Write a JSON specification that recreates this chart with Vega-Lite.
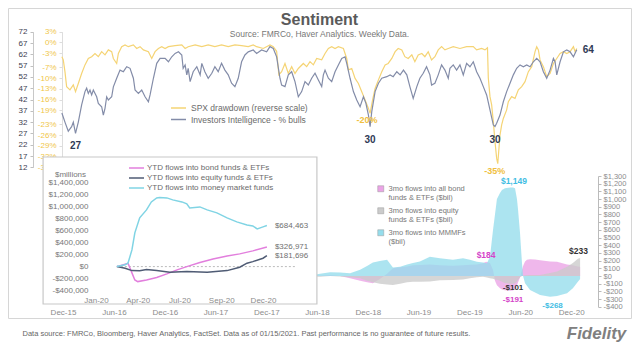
{
"$schema": "https://vega.github.io/schema/vega-lite/v6.json",
"width": 623, "height": 310, "autosize": "none",
"padding": {"left": 8, "top": 8, "right": 9, "bottom": 34},
"background": "white",
"config": {
  "font": "Liberation Sans",
  "view": {"stroke": "#d6d6d6"},
  "axis": {"grid": false, "labelFlush": false, "labelOverlap": false, "labelBound": false},
  "legend": {"padding": 0, "titlePadding": 0}
},
"title": {"text": "Sentiment", "subtitle": "Source: FMRCo, Haver Analytics. Weekly Data.", "anchor": "middle", "frame": "group", "offset": -30, "fontSize": 16, "fontWeight": "bold", "color": "#5a5a5a", "subtitleFontSize": 8.5, "subtitleColor": "#777777", "subtitlePadding": 2},
"datasets": {
"ii": [
{"d":"2015-11-27","v":36},{"d":"2015-12-08","v":32},{"d":"2015-12-20","v":28},{"d":"2016-01-01","v":30},{"d":"2016-01-07","v":32},{"d":"2016-01-15","v":27},{"d":"2016-01-25","v":32},{"d":"2016-02-06","v":39.6},{"d":"2016-02-18","v":45.5},{"d":"2016-02-24","v":47},{"d":"2016-03-01","v":44.7},{"d":"2016-03-07","v":46.2},{"d":"2016-03-13","v":44},{"d":"2016-03-19","v":46.2},{"d":"2016-03-31","v":43.2},{"d":"2016-04-06","v":40.3},{"d":"2016-04-18","v":38.8},{"d":"2016-04-24","v":35.1},{"d":"2016-04-30","v":38.1},{"d":"2016-05-06","v":43.2},{"d":"2016-05-12","v":41.8},{"d":"2016-05-24","v":43.2},{"d":"2016-05-30","v":47.6},{"d":"2016-06-11","v":51.4},{"d":"2016-06-23","v":55},{"d":"2016-07-05","v":54.3},{"d":"2016-07-17","v":56.5},{"d":"2016-07-29","v":55.8},{"d":"2016-08-10","v":51.4},{"d":"2016-08-16","v":46.2},{"d":"2016-08-28","v":44.7},{"d":"2016-09-09","v":46.2},{"d":"2016-09-21","v":43.2},{"d":"2016-10-03","v":41},{"d":"2016-10-09","v":44},{"d":"2016-10-21","v":51.4},{"d":"2016-11-02","v":58},{"d":"2016-11-14","v":60.2},{"d":"2016-12-02","v":60.2},{"d":"2016-12-14","v":58.7},{"d":"2016-12-26","v":60.9},{"d":"2017-01-07","v":62.4},{"d":"2017-01-19","v":63.1},{"d":"2017-01-31","v":61.7},{"d":"2017-02-05","v":55.8},{"d":"2017-02-12","v":57.3},{"d":"2017-02-18","v":52.9},{"d":"2017-02-23","v":55.8},{"d":"2017-03-02","v":49.9},{"d":"2017-03-13","v":54.3},{"d":"2017-03-26","v":56.5},{"d":"2017-04-07","v":52.9},{"d":"2017-04-13","v":58},{"d":"2017-04-24","v":54.3},{"d":"2017-05-06","v":51.4},{"d":"2017-05-19","v":53.6},{"d":"2017-05-30","v":56.5},{"d":"2017-06-11","v":54.3},{"d":"2017-06-23","v":58},{"d":"2017-07-05","v":55},{"d":"2017-07-17","v":52.9},{"d":"2017-07-29","v":49.2},{"d":"2017-08-10","v":47.7},{"d":"2017-08-22","v":51.4},{"d":"2017-09-03","v":58.7},{"d":"2017-09-15","v":61.7},{"d":"2017-09-27","v":63.1},{"d":"2017-10-15","v":63.9},{"d":"2017-10-27","v":62.4},{"d":"2017-11-14","v":63.9},{"d":"2017-12-02","v":63.1},{"d":"2017-12-14","v":65.4},{"d":"2017-12-26","v":64.6},{"d":"2018-01-07","v":60.9},{"d":"2018-01-19","v":51.4},{"d":"2018-01-25","v":48.4},{"d":"2018-02-06","v":47.7},{"d":"2018-02-18","v":52.9},{"d":"2018-03-02","v":54.3},{"d":"2018-03-14","v":49.9},{"d":"2018-03-26","v":43.2},{"d":"2018-04-07","v":45.5},{"d":"2018-04-19","v":49.9},{"d":"2018-05-01","v":48.4},{"d":"2018-05-13","v":51.4},{"d":"2018-05-25","v":53.6},{"d":"2018-06-06","v":50.6},{"d":"2018-06-18","v":47.7},{"d":"2018-06-24","v":52.9},{"d":"2018-06-30","v":55},{"d":"2018-07-12","v":51.4},{"d":"2018-07-24","v":49.9},{"d":"2018-08-05","v":54.3},{"d":"2018-08-17","v":57.3},{"d":"2018-08-29","v":60.2},{"d":"2018-09-10","v":60.9},{"d":"2018-09-16","v":58},{"d":"2018-09-28","v":51.4},{"d":"2018-10-10","v":45.5},{"d":"2018-10-22","v":41.8},{"d":"2018-11-03","v":38.8},{"d":"2018-11-15","v":43.2},{"d":"2018-11-24","v":40.3},{"d":"2018-12-03","v":35.1},{"d":"2018-12-09","v":30},{"d":"2018-12-15","v":36.6},{"d":"2018-12-27","v":45.5},{"d":"2019-01-08","v":49.2},{"d":"2019-01-20","v":51.4},{"d":"2019-02-07","v":52.1},{"d":"2019-02-19","v":52.9},{"d":"2019-03-02","v":52.1},{"d":"2019-03-15","v":54.3},{"d":"2019-03-27","v":52.9},{"d":"2019-04-08","v":55},{"d":"2019-04-20","v":52.9},{"d":"2019-05-01","v":47.7},{"d":"2019-05-13","v":42.5},{"d":"2019-05-26","v":47.7},{"d":"2019-06-06","v":51.4},{"d":"2019-06-18","v":53.6},{"d":"2019-06-30","v":56.5},{"d":"2019-07-12","v":52.9},{"d":"2019-07-18","v":48.4},{"d":"2019-07-30","v":49.2},{"d":"2019-08-11","v":52.9},{"d":"2019-08-23","v":57.3},{"d":"2019-09-04","v":55},{"d":"2019-09-16","v":51.4},{"d":"2019-09-22","v":55.8},{"d":"2019-10-04","v":57.3},{"d":"2019-10-16","v":55},{"d":"2019-10-28","v":57.3},{"d":"2019-11-09","v":52.9},{"d":"2019-11-21","v":58},{"d":"2019-12-03","v":56.5},{"d":"2019-12-15","v":58.7},{"d":"2019-12-27","v":54.3},{"d":"2020-01-08","v":51.4},{"d":"2020-01-20","v":47.7},{"d":"2020-02-01","v":44},{"d":"2020-02-13","v":37.4},{"d":"2020-02-25","v":30.7},{"d":"2020-03-02","v":30},{"d":"2020-03-08","v":31.5},{"d":"2020-03-20","v":35.1},{"d":"2020-04-01","v":41},{"d":"2020-04-13","v":45.5},{"d":"2020-04-25","v":49.2},{"d":"2020-05-07","v":52.9},{"d":"2020-05-19","v":55.8},{"d":"2020-05-31","v":57.3},{"d":"2020-06-12","v":56.5},{"d":"2020-06-24","v":57.3},{"d":"2020-07-06","v":56.5},{"d":"2020-07-18","v":58.7},{"d":"2020-07-30","v":60.2},{"d":"2020-08-11","v":58.7},{"d":"2020-08-23","v":54.3},{"d":"2020-09-04","v":51.4},{"d":"2020-09-16","v":55},{"d":"2020-09-28","v":60.2},{"d":"2020-10-04","v":58.7},{"d":"2020-10-10","v":52.9},{"d":"2020-10-22","v":58.7},{"d":"2020-11-03","v":63.1},{"d":"2020-11-15","v":63.9},{"d":"2020-11-27","v":63.1},{"d":"2020-12-09","v":60.9},{"d":"2020-12-21","v":64}
],
"spx": [
{"d":"2015-11-27","v":-4.0},{"d":"2015-12-02","v":-4.9},{"d":"2015-12-08","v":-8.2},{"d":"2015-12-14","v":-12.4},{"d":"2015-12-26","v":-13.3},{"d":"2016-01-07","v":-11.9},{"d":"2016-01-15","v":-13.8},{"d":"2016-01-25","v":-11.5},{"d":"2016-02-06","v":-8.7},{"d":"2016-02-18","v":-6.3},{"d":"2016-03-01","v":-4.5},{"d":"2016-03-13","v":-4.0},{"d":"2016-03-25","v":-3.1},{"d":"2016-04-06","v":-4.0},{"d":"2016-04-18","v":-2.6},{"d":"2016-04-30","v":-3.5},{"d":"2016-05-12","v":-2.1},{"d":"2016-05-24","v":-2.6},{"d":"2016-05-30","v":-4.5},{"d":"2016-06-11","v":-5.9},{"d":"2016-06-17","v":-3.1},{"d":"2016-06-29","v":-1.2},{"d":"2016-07-11","v":-0.7},{"d":"2016-07-23","v":-1.2},{"d":"2016-08-10","v":-0.7},{"d":"2016-08-22","v":-1.7},{"d":"2016-09-03","v":-1.2},{"d":"2016-09-15","v":-2.1},{"d":"2016-10-03","v":-2.6},{"d":"2016-10-15","v":-4.5},{"d":"2016-10-27","v":-2.6},{"d":"2016-11-08","v":-1.7},{"d":"2016-11-20","v":-1.2},{"d":"2016-12-02","v":-1.7},{"d":"2016-12-14","v":-1.2},{"d":"2017-01-07","v":-0.9},{"d":"2017-01-31","v":-0.7},{"d":"2017-02-12","v":-1.7},{"d":"2017-02-23","v":-1.2},{"d":"2017-03-20","v":-0.7},{"d":"2017-04-13","v":-1.2},{"d":"2017-05-06","v":-0.7},{"d":"2017-05-30","v":-1.2},{"d":"2017-06-23","v":-0.7},{"d":"2017-07-17","v":-1.2},{"d":"2017-08-10","v":-0.7},{"d":"2017-09-03","v":-0.9},{"d":"2017-09-27","v":-1.2},{"d":"2017-10-15","v":-0.7},{"d":"2017-10-27","v":-1.2},{"d":"2017-11-20","v":-1.7},{"d":"2017-12-14","v":-0.7},{"d":"2017-12-26","v":-1.2},{"d":"2018-01-07","v":-2.5},{"d":"2018-01-15","v":-9.1},{"d":"2018-01-25","v":-8.2},{"d":"2018-02-06","v":-5.9},{"d":"2018-02-18","v":-8.7},{"d":"2018-03-02","v":-6.8},{"d":"2018-03-14","v":-8.7},{"d":"2018-03-26","v":-7.3},{"d":"2018-04-13","v":-5.9},{"d":"2018-04-25","v":-6.8},{"d":"2018-05-07","v":-5.4},{"d":"2018-05-19","v":-6.3},{"d":"2018-05-31","v":-4.5},{"d":"2018-06-18","v":-4.9},{"d":"2018-06-30","v":-3.1},{"d":"2018-07-12","v":-1.7},{"d":"2018-07-24","v":-1.2},{"d":"2018-08-05","v":-1.7},{"d":"2018-08-17","v":-1.2},{"d":"2018-09-04","v":-1.7},{"d":"2018-09-16","v":-4.5},{"d":"2018-09-22","v":-7.7},{"d":"2018-10-04","v":-7.3},{"d":"2018-10-16","v":-10.1},{"d":"2018-10-28","v":-11.5},{"d":"2018-11-09","v":-13.8},{"d":"2018-11-21","v":-16.1},{"d":"2018-12-03","v":-18.5},{"d":"2018-12-09","v":-19.9},{"d":"2018-12-18","v":-16.1},{"d":"2018-12-27","v":-12.9},{"d":"2019-01-08","v":-10.5},{"d":"2019-01-20","v":-8.2},{"d":"2019-02-01","v":-6.3},{"d":"2019-02-12","v":-5.9},{"d":"2019-02-25","v":-4.5},{"d":"2019-03-09","v":-2.6},{"d":"2019-03-20","v":-1.7},{"d":"2019-04-02","v":-2.1},{"d":"2019-04-13","v":-4.0},{"d":"2019-04-25","v":-4.5},{"d":"2019-05-08","v":-3.5},{"d":"2019-05-19","v":-5.4},{"d":"2019-05-31","v":-3.5},{"d":"2019-06-13","v":-3.1},{"d":"2019-06-24","v":-4.0},{"d":"2019-07-06","v":-2.6},{"d":"2019-07-18","v":-4.9},{"d":"2019-07-30","v":-4.0},{"d":"2019-08-11","v":-2.1},{"d":"2019-08-23","v":-1.2},{"d":"2019-09-04","v":-2.1},{"d":"2019-09-16","v":-1.7},{"d":"2019-10-04","v":-1.2},{"d":"2019-10-28","v":-1.7},{"d":"2019-11-21","v":-1.2},{"d":"2019-12-15","v":-1.2},{"d":"2019-12-27","v":-2.1},{"d":"2020-01-14","v":-1.7},{"d":"2020-01-26","v":-2.1},{"d":"2020-02-04","v":-1.5},{"d":"2020-02-07","v":-10},{"d":"2020-02-13","v":-15.2},{"d":"2020-02-19","v":-17.5},{"d":"2020-02-25","v":-22.2},{"d":"2020-03-02","v":-27.8},{"d":"2020-03-08","v":-32.5},{"d":"2020-03-12","v":-34},{"d":"2020-03-20","v":-26},{"d":"2020-03-26","v":-23.1},{"d":"2020-04-01","v":-21.3},{"d":"2020-04-13","v":-18.9},{"d":"2020-04-19","v":-16.6},{"d":"2020-05-01","v":-15.2},{"d":"2020-05-13","v":-15.7},{"d":"2020-05-25","v":-13.3},{"d":"2020-06-06","v":-12.4},{"d":"2020-06-18","v":-11},{"d":"2020-06-30","v":-8.2},{"d":"2020-07-12","v":-6.8},{"d":"2020-07-24","v":-2.6},{"d":"2020-07-30","v":-1.2},{"d":"2020-08-05","v":-2.1},{"d":"2020-08-11","v":-4.9},{"d":"2020-08-23","v":-6.8},{"d":"2020-09-04","v":-9.6},{"d":"2020-09-16","v":-8.7},{"d":"2020-09-28","v":-5.9},{"d":"2020-10-10","v":-4.5},{"d":"2020-10-22","v":-3.1},{"d":"2020-11-03","v":-2.6},{"d":"2020-11-15","v":-3.1},{"d":"2020-11-27","v":-2.6},{"d":"2020-12-09","v":-1.2},{"d":"2020-12-15","v":-2.6},{"d":"2020-12-21","v":-1.7}
],
"iiLows": [{"d":"2016-01-15","v":27,"t":"27"},{"d":"2018-12-09","v":30,"t":"30"},{"d":"2020-03-02","v":30,"t":"30"}],
"iiLast": [{"d":"2020-12-21","v":64,"t":"64"}],
"spxLows": [{"d":"2018-12-09","v":-19.9,"t":"-20%"},{"d":"2020-03-12","v":-34,"t":"-35%"}],
"flows": [
{"d":"2018-04-01","s":"bond","v":10},{"d":"2018-05-07","s":"bond","v":15},{"d":"2018-06-12","s":"bond","v":5},{"d":"2018-07-18","s":"bond","v":10},{"d":"2018-08-23","s":"bond","v":0},{"d":"2018-09-28","s":"bond","v":-30},{"d":"2018-11-03","s":"bond","v":-60},{"d":"2018-11-28","s":"bond","v":-80},{"d":"2018-12-19","s":"bond","v":-95},{"d":"2019-01-13","s":"bond","v":-40},{"d":"2019-02-08","s":"bond","v":30},{"d":"2019-03-01","s":"bond","v":100},{"d":"2019-03-27","s":"bond","v":115},{"d":"2019-04-21","s":"bond","v":125},{"d":"2019-05-12","s":"bond","v":140},{"d":"2019-06-06","s":"bond","v":143},{"d":"2019-07-12","s":"bond","v":150},{"d":"2019-08-17","s":"bond","v":140},{"d":"2019-10-03","s":"bond","v":135},{"d":"2019-11-08","s":"bond","v":140},{"d":"2019-12-03","s":"bond","v":145},{"d":"2019-12-28","s":"bond","v":150},{"d":"2020-01-19","s":"bond","v":165},{"d":"2020-01-30","s":"bond","v":184},{"d":"2020-02-13","s":"bond","v":170},{"d":"2020-02-24","s":"bond","v":78},{"d":"2020-03-02","s":"bond","v":-60},{"d":"2020-03-09","s":"bond","v":-120},{"d":"2020-03-20","s":"bond","v":-160},{"d":"2020-03-27","s":"bond","v":-175},{"d":"2020-04-07","s":"bond","v":-185},{"d":"2020-04-25","s":"bond","v":-191},{"d":"2020-05-06","s":"bond","v":-188},{"d":"2020-05-13","s":"bond","v":-170},{"d":"2020-05-20","s":"bond","v":-120},{"d":"2020-05-24","s":"bond","v":-80},{"d":"2020-05-31","s":"bond","v":-20},{"d":"2020-06-07","s":"bond","v":78},{"d":"2020-06-11","s":"bond","v":130},{"d":"2020-06-18","s":"bond","v":190},{"d":"2020-06-25","s":"bond","v":210},{"d":"2020-07-06","s":"bond","v":217},{"d":"2020-07-24","s":"bond","v":215},{"d":"2020-08-11","s":"bond","v":204},{"d":"2020-09-16","s":"bond","v":190},{"d":"2020-10-11","s":"bond","v":186},{"d":"2020-11-16","s":"bond","v":150},{"d":"2020-12-07","s":"bond","v":140},{"d":"2020-12-25","s":"bond","v":125},{"d":"2021-01-02","s":"bond","v":121},
{"d":"2018-04-01","s":"equity","v":0},{"d":"2018-05-07","s":"equity","v":-5},{"d":"2018-06-12","s":"equity","v":-10},{"d":"2018-07-18","s":"equity","v":0},{"d":"2018-08-23","s":"equity","v":-5},{"d":"2018-09-28","s":"equity","v":-15},{"d":"2018-11-03","s":"equity","v":-30},{"d":"2018-11-28","s":"equity","v":-60},{"d":"2018-12-19","s":"equity","v":-80},{"d":"2019-01-13","s":"equity","v":-100},{"d":"2019-02-08","s":"equity","v":-110},{"d":"2019-03-01","s":"equity","v":-117},{"d":"2019-03-27","s":"equity","v":-100},{"d":"2019-04-21","s":"equity","v":-80},{"d":"2019-05-12","s":"equity","v":-75},{"d":"2019-06-06","s":"equity","v":-74},{"d":"2019-07-12","s":"equity","v":-70},{"d":"2019-08-17","s":"equity","v":-55},{"d":"2019-10-03","s":"equity","v":-52},{"d":"2019-11-08","s":"equity","v":-45},{"d":"2019-12-03","s":"equity","v":-30},{"d":"2019-12-28","s":"equity","v":-15},{"d":"2020-01-19","s":"equity","v":-9},{"d":"2020-02-02","s":"equity","v":-20},{"d":"2020-02-13","s":"equity","v":-30},{"d":"2020-02-24","s":"equity","v":-35},{"d":"2020-03-02","s":"equity","v":-45},{"d":"2020-03-09","s":"equity","v":-50},{"d":"2020-03-20","s":"equity","v":-60},{"d":"2020-03-27","s":"equity","v":-75},{"d":"2020-04-07","s":"equity","v":-90},{"d":"2020-04-25","s":"equity","v":-101},{"d":"2020-05-06","s":"equity","v":-101},{"d":"2020-05-13","s":"equity","v":-95},{"d":"2020-05-20","s":"equity","v":-70},{"d":"2020-05-24","s":"equity","v":-50},{"d":"2020-05-31","s":"equity","v":-15},{"d":"2020-06-07","s":"equity","v":0},{"d":"2020-06-18","s":"equity","v":10},{"d":"2020-07-06","s":"equity","v":13},{"d":"2020-08-11","s":"equity","v":13},{"d":"2020-09-16","s":"equity","v":40},{"d":"2020-10-11","s":"equity","v":60},{"d":"2020-11-16","s":"equity","v":120},{"d":"2020-12-07","s":"equity","v":170},{"d":"2020-12-25","s":"equity","v":225},{"d":"2021-01-02","s":"equity","v":233},
{"d":"2018-04-01","s":"mmf","v":20},{"d":"2018-05-07","s":"mmf","v":10},{"d":"2018-06-12","s":"mmf","v":30},{"d":"2018-07-18","s":"mmf","v":50},{"d":"2018-08-23","s":"mmf","v":45},{"d":"2018-09-28","s":"mmf","v":35},{"d":"2018-11-03","s":"mmf","v":80},{"d":"2018-11-28","s":"mmf","v":130},{"d":"2018-12-19","s":"mmf","v":175},{"d":"2019-01-13","s":"mmf","v":195},{"d":"2019-02-08","s":"mmf","v":210},{"d":"2019-03-01","s":"mmf","v":110},{"d":"2019-03-27","s":"mmf","v":120},{"d":"2019-04-21","s":"mmf","v":150},{"d":"2019-05-12","s":"mmf","v":170},{"d":"2019-06-06","s":"mmf","v":190},{"d":"2019-07-12","s":"mmf","v":250},{"d":"2019-08-17","s":"mmf","v":230},{"d":"2019-10-03","s":"mmf","v":210},{"d":"2019-11-08","s":"mmf","v":230},{"d":"2019-12-03","s":"mmf","v":210},{"d":"2019-12-28","s":"mmf","v":185},{"d":"2020-01-19","s":"mmf","v":175},{"d":"2020-02-02","s":"mmf","v":165},{"d":"2020-02-13","s":"mmf","v":250},{"d":"2020-02-24","s":"mmf","v":600},{"d":"2020-03-02","s":"mmf","v":800},{"d":"2020-03-09","s":"mmf","v":1000},{"d":"2020-03-20","s":"mmf","v":1080},{"d":"2020-03-27","s":"mmf","v":1118},{"d":"2020-04-07","s":"mmf","v":1140},{"d":"2020-04-25","s":"mmf","v":1149},{"d":"2020-05-06","s":"mmf","v":1149},{"d":"2020-05-13","s":"mmf","v":1140},{"d":"2020-05-20","s":"mmf","v":1000},{"d":"2020-05-24","s":"mmf","v":858},{"d":"2020-05-31","s":"mmf","v":559},{"d":"2020-06-07","s":"mmf","v":169},{"d":"2020-06-11","s":"mmf","v":0},{"d":"2020-06-18","s":"mmf","v":-95},{"d":"2020-07-06","s":"mmf","v":-182},{"d":"2020-08-11","s":"mmf","v":-247},{"d":"2020-09-16","s":"mmf","v":-268},{"d":"2020-10-11","s":"mmf","v":-260},{"d":"2020-11-16","s":"mmf","v":-225},{"d":"2020-12-07","s":"mmf","v":-160},{"d":"2020-12-25","s":"mmf","v":-74},{"d":"2021-01-02","s":"mmf","v":-40}
],
"flowPeaks": [{"d":"2020-05-09","s":"mmf","v":1149,"t":"$1,149"},{"d":"2020-01-30","s":"bond","v":184,"t":"$184"},{"d":"2020-12-27","s":"equity","v":233,"t":"$233"}],
"flowTroughsUpper": [{"d":"2020-05-06","s":"equity","v":-101,"t":"-$101"}],
"flowTroughs": [{"d":"2020-05-06","s":"bond","v":-191,"t":"-$191"},{"d":"2020-09-25","s":"mmf","v":-268,"t":"-$268"}],
"insetBox": [{"x0":"2019-09-25","x1":"2021-04-11","y0":1826667,"y1":-623333}],
"insetZero": [{"d":"2020-02-24","d2":"2021-02-28","v":0}],
"ytd": [
{"d":"2020-02-24","s":"bond","v":0},{"d":"2020-03-12","s":"bond","v":40000},{"d":"2020-03-18","s":"bond","v":55000},{"d":"2020-03-26","s":"bond","v":-105000},{"d":"2020-04-01","s":"bond","v":-222000},{"d":"2020-04-07","s":"bond","v":-250000},{"d":"2020-04-25","s":"bond","v":-222000},{"d":"2020-05-16","s":"bond","v":-183000},{"d":"2020-06-06","s":"bond","v":-122000},{"d":"2020-06-27","s":"bond","v":-55000},{"d":"2020-07-17","s":"bond","v":0},{"d":"2020-08-13","s":"bond","v":67000},{"d":"2020-09-09","s":"bond","v":128000},{"d":"2020-10-08","s":"bond","v":178000},{"d":"2020-11-03","s":"bond","v":212000},{"d":"2020-11-30","s":"bond","v":262000},{"d":"2020-12-29","s":"bond","v":326971},
{"d":"2020-02-24","s":"equity","v":0},{"d":"2020-03-12","s":"equity","v":-27000},{"d":"2020-03-26","s":"equity","v":-67000},{"d":"2020-04-11","s":"equity","v":-70000},{"d":"2020-04-25","s":"equity","v":-50000},{"d":"2020-05-16","s":"equity","v":-67000},{"d":"2020-06-12","s":"equity","v":-93000},{"d":"2020-07-17","s":"equity","v":-83000},{"d":"2020-08-28","s":"equity","v":-93000},{"d":"2020-10-08","s":"equity","v":-67000},{"d":"2020-11-03","s":"equity","v":-10000},{"d":"2020-11-18","s":"equity","v":57000},{"d":"2020-11-30","s":"equity","v":83000},{"d":"2020-12-21","s":"equity","v":140000},{"d":"2020-12-29","s":"equity","v":181696},
{"d":"2020-02-24","s":"mmf","v":0},{"d":"2020-03-12","s":"mmf","v":30000},{"d":"2020-03-18","s":"mmf","v":60000},{"d":"2020-03-26","s":"mmf","v":278000},{"d":"2020-04-01","s":"mmf","v":562000},{"d":"2020-04-11","s":"mmf","v":812000},{"d":"2020-04-25","s":"mmf","v":945000},{"d":"2020-05-05","s":"mmf","v":1078000},{"d":"2020-05-16","s":"mmf","v":1145000},{"d":"2020-05-22","s":"mmf","v":1150000},{"d":"2020-06-06","s":"mmf","v":1145000},{"d":"2020-06-18","s":"mmf","v":1112000},{"d":"2020-07-07","s":"mmf","v":1078000},{"d":"2020-07-17","s":"mmf","v":1045000},{"d":"2020-07-23","s":"mmf","v":978000},{"d":"2020-08-13","s":"mmf","v":995000},{"d":"2020-08-28","s":"mmf","v":945000},{"d":"2020-09-17","s":"mmf","v":895000},{"d":"2020-10-08","s":"mmf","v":812000},{"d":"2020-10-28","s":"mmf","v":745000},{"d":"2020-11-18","s":"mmf","v":695000},{"d":"2020-11-30","s":"mmf","v":678000},{"d":"2020-12-09","s":"mmf","v":628000},{"d":"2020-12-21","s":"mmf","v":662000},{"d":"2020-12-29","s":"mmf","v":684463}
],
"ytdLast": [{"d":"2020-12-29","v":684463,"t":"$684,463"},{"d":"2020-12-29","v":326971,"t":"$326,971"},{"d":"2020-12-29","v":181696,"t":"$181,696"}]
},
"layer": [
{"data": {"name": "spx"}, "mark": {"type": "line", "color": "#f5d475", "strokeWidth": 1.2},
 "encoding": {
  "x": {"field": "d", "type": "temporal", "scale": {"type": "utc", "nice": false, "domain": [{"year":2015,"month":11,"date":1,"utc":true},{"year":2021,"month":2,"date":1,"utc":true}], "range": [46.66, 580.45]},
        "axis": {"orient": "bottom", "offset": -11, "values": [{"year":2015,"month":12,"date":1,"utc":true},{"year":2016,"month":6,"date":1,"utc":true},{"year":2016,"month":12,"date":1,"utc":true},{"year":2017,"month":6,"date":1,"utc":true},{"year":2017,"month":12,"date":1,"utc":true},{"year":2018,"month":6,"date":1,"utc":true},{"year":2018,"month":12,"date":1,"utc":true},{"year":2019,"month":6,"date":1,"utc":true},{"year":2019,"month":12,"date":1,"utc":true},{"year":2020,"month":6,"date":1,"utc":true},{"year":2020,"month":12,"date":1,"utc":true}],
                 "format": "%b-%y", "domain": false, "ticks": false, "tickSize": 0, "labelPadding": 1.5, "labelColor": "#8c8c8c", "labelFontSize": 8,
                 "title": "Data source: FMRCo, Bloomberg, Haver Analytics, FactSet. Data as of 01/15/2021. Past performance is no guarantee of future results.",
                 "titleX": 14, "titleY": 26, "titleAlign": "left", "titleAnchor": "start", "titleBaseline": "middle", "titleFontSize": 7.5, "titleFontWeight": "normal", "titleColor": "#666666"}},
  "y": {"field": "v", "type": "quantitative", "scale": {"domain": [-35, 3], "range": [159.3, 23.7], "nice": false, "zero": false},
        "axis": {"orient": "left", "offset": -54, "values": [3,0,-3,-7,-10,-13,-16,-19,-23,-26,-29,-32,-35], "labelExpr": "datum.value + '%'", "labelColor": "#f0c64a", "labelFontSize": 8, "tickSize": 3, "tickColor": "#dddddd", "domainColor": "#dddddd", "labelPadding": 3, "title": null}}
 }},
{"data": {"name": "ii"}, "mark": {"type": "line", "strokeWidth": 1.2},
 "encoding": {
  "x": {"field": "d", "type": "temporal", "scale": {"type": "utc", "nice": false, "domain": [{"year":2015,"month":11,"date":1,"utc":true},{"year":2021,"month":2,"date":1,"utc":true}], "range": [46.66, 580.45]}, "axis": null},
  "y": {"field": "v", "type": "quantitative", "scale": {"domain": [12, 72], "range": [159.3, 23.7], "nice": false, "zero": false},
        "axis": {"orient": "left", "offset": -25, "values": [12,17,22,27,32,37,42,47,52,57,62,67,72], "labelColor": "#3c4150", "labelFontSize": 8, "tickSize": 3, "tickColor": "#c0c0c0", "domainColor": "#c8c8c8", "labelPadding": 3, "title": null}},
  "color": {"datum": "Investors Intelligence - % bulls", "type": "nominal",
            "scale": {"domain": ["SPX drawdown (reverse scale)", "Investors Intelligence - % bulls"], "range": ["#f5d475", "#838ca8"]},
            "legend": {"orient": "none", "legendX": 164.5, "legendY": 94, "title": null, "symbolType": "M-1.5,0H1.5", "symbolSize": 100, "symbolStrokeWidth": 1.5, "labelFontSize": 8.5, "labelColor": "#6a6a6a", "labelOffset": 6.5, "rowPadding": 0.5}}
 }},
{"data": {"name": "iiLows"}, "mark": {"type": "text", "dy": 13, "fontSize": 10, "fontWeight": "bold", "color": "#2f3a55"},
 "encoding": {
  "x": {"field": "d", "type": "temporal", "scale": {"type": "utc", "nice": false, "domain": [{"year":2015,"month":11,"date":1,"utc":true},{"year":2021,"month":2,"date":1,"utc":true}], "range": [46.66, 580.45]}, "axis": null},
  "y": {"field": "v", "type": "quantitative", "scale": {"domain": [12, 72], "range": [159.3, 23.7], "nice": false, "zero": false}, "axis": null},
  "text": {"field": "t"}
 }},
{"data": {"name": "iiLast"}, "mark": {"type": "text", "dx": 6, "align": "left", "fontSize": 10, "fontWeight": "bold", "color": "#2f3a55"},
 "encoding": {
  "x": {"field": "d", "type": "temporal", "scale": {"type": "utc", "nice": false, "domain": [{"year":2015,"month":11,"date":1,"utc":true},{"year":2021,"month":2,"date":1,"utc":true}], "range": [46.66, 580.45]}, "axis": null},
  "y": {"field": "v", "type": "quantitative", "scale": {"domain": [12, 72], "range": [159.3, 23.7], "nice": false, "zero": false}, "axis": null},
  "text": {"field": "t"}
 }},
{"data": {"name": "spxLows"}, "mark": {"type": "text", "dy": 7, "dx": -3, "fontSize": 9, "fontWeight": "bold", "color": "#f0c040"},
 "encoding": {
  "x": {"field": "d", "type": "temporal", "scale": {"type": "utc", "nice": false, "domain": [{"year":2015,"month":11,"date":1,"utc":true},{"year":2021,"month":2,"date":1,"utc":true}], "range": [46.66, 580.45]}, "axis": null},
  "y": {"field": "v", "type": "quantitative", "scale": {"domain": [-35, 3], "range": [159.3, 23.7], "nice": false, "zero": false}, "axis": null},
  "text": {"field": "t"}
 }},
{"data": {"name": "flows"}, "mark": {"type": "area", "fillOpacity": 0.78},
 "encoding": {
  "x": {"field": "d", "type": "temporal", "scale": {"type": "utc", "nice": false, "domain": [{"year":2015,"month":11,"date":1,"utc":true},{"year":2021,"month":2,"date":1,"utc":true}], "range": [46.66, 580.45]}, "axis": null},
  "y": {"field": "v", "type": "quantitative", "stack": null, "scale": {"domain": [-400, 1300], "range": [298.8, 168], "nice": false, "zero": false},
        "axis": {"orient": "right", "offset": -33, "values": [-400,-300,-200,-100,0,100,200,300,400,500,600,700,800,900,1000,1100,1200,1300], "labelExpr": "(datum.value < 0 ? '-' : '') + '$' + format(abs(datum.value), ',')", "labelColor": "#8c8c8c", "labelFontSize": 7.5, "tickSize": 3, "tickColor": "#bbbbbb", "domainColor": "#bbbbbb", "labelPadding": 2,
                 "title": "Fidelity", "titleAngle": 0, "titleX": -2, "titleY": 325, "titleAlign": "center", "titleBaseline": "middle", "titleFontSize": 17, "titleFontStyle": "italic", "titleFontWeight": "bold", "titleColor": "#808080"}},
  "fill": {"field": "s", "type": "nominal", "scale": {"domain": ["bond", "equity", "mmf"], "range": ["#eba3e6", "#cbcbcb", "#95ddec"]},
           "legend": {"orient": "none", "legendX": 369, "legendY": 177, "title": null, "symbolType": "square", "symbolSize": 36, "symbolStrokeColor": "#999999", "symbolStrokeWidth": 0.5, "labelFontSize": 7.5, "labelColor": "#777777", "labelOffset": 4, "rowPadding": 4,
                      "labelExpr": "datum.label == 'bond' ? ['3mo flows into all bond', 'funds & ETFs ($bil)'] : datum.label == 'equity' ? ['3mo flows into equity', 'funds & ETFs ($bil)'] : ['3mo flows into MMMFs', '($bil)']"}}
 }},
{"data": {"name": "flowPeaks"}, "mark": {"type": "text", "dy": -7, "fontSize": 8.5, "fontWeight": "bold"},
 "encoding": {
  "x": {"field": "d", "type": "temporal", "scale": {"type": "utc", "nice": false, "domain": [{"year":2015,"month":11,"date":1,"utc":true},{"year":2021,"month":2,"date":1,"utc":true}], "range": [46.66, 580.45]}, "axis": null},
  "y": {"field": "v", "type": "quantitative", "scale": {"domain": [-400, 1300], "range": [298.8, 168], "nice": false, "zero": false}, "axis": null},
  "color": {"field": "s", "type": "nominal", "scale": {"domain": ["bond", "equity", "mmf"], "range": ["#d444c9", "#333333", "#3fbde3"]}, "legend": null},
  "text": {"field": "t"}
 }},
{"data": {"name": "flowTroughsUpper"}, "mark": {"type": "text", "dy": 4, "fontSize": 8, "fontWeight": "bold"},
 "encoding": {
  "x": {"field": "d", "type": "temporal", "scale": {"type": "utc", "nice": false, "domain": [{"year":2015,"month":11,"date":1,"utc":true},{"year":2021,"month":2,"date":1,"utc":true}], "range": [46.66, 580.45]}, "axis": null},
  "y": {"field": "v", "type": "quantitative", "scale": {"domain": [-400, 1300], "range": [298.8, 168], "nice": false, "zero": false}, "axis": null},
  "color": {"field": "s", "type": "nominal", "scale": {"domain": ["bond", "equity", "mmf"], "range": ["#d444c9", "#333333", "#3fbde3"]}, "legend": null},
  "text": {"field": "t"}
 }},
{"data": {"name": "flowTroughs"}, "mark": {"type": "text", "dy": 9, "fontSize": 8, "fontWeight": "bold"},
 "encoding": {
  "x": {"field": "d", "type": "temporal", "scale": {"type": "utc", "nice": false, "domain": [{"year":2015,"month":11,"date":1,"utc":true},{"year":2021,"month":2,"date":1,"utc":true}], "range": [46.66, 580.45]}, "axis": null},
  "y": {"field": "v", "type": "quantitative", "scale": {"domain": [-400, 1300], "range": [298.8, 168], "nice": false, "zero": false}, "axis": null},
  "color": {"field": "s", "type": "nominal", "scale": {"domain": ["bond", "equity", "mmf"], "range": ["#d444c9", "#333333", "#3fbde3"]}, "legend": null},
  "text": {"field": "t"}
 }},
{"data": {"name": "insetBox"}, "mark": {"type": "rect", "fill": "white", "stroke": "#c8c8c8", "strokeWidth": 1.2},
 "encoding": {
  "x": {"field": "x0", "type": "temporal", "scale": {"type": "utc", "nice": false, "domain": [{"year":2020,"month":1,"date":1,"utc":true},{"year":2021,"month":1,"date":31,"utc":true}], "range": [82.66, 274.92]}, "axis": null},
  "x2": {"field": "x1"},
  "y": {"field": "y0", "type": "quantitative", "scale": {"domain": [-400000, 1400000], "range": [282.6, 174.6], "nice": false, "zero": false}, "axis": null},
  "y2": {"field": "y1"}
 }},
{"data": {"name": "insetZero"}, "mark": {"type": "rule", "color": "#bbbbbb", "strokeDash": [2, 2], "strokeWidth": 1},
 "encoding": {
  "x": {"field": "d", "type": "temporal", "scale": {"type": "utc", "nice": false, "domain": [{"year":2020,"month":1,"date":1,"utc":true},{"year":2021,"month":1,"date":31,"utc":true}], "range": [82.66, 274.92]}, "axis": null},
  "x2": {"field": "d2"},
  "y": {"field": "v", "type": "quantitative", "scale": {"domain": [-400000, 1400000], "range": [282.6, 174.6], "nice": false, "zero": false}, "axis": null}
 }},
{"data": {"name": "ytd"}, "mark": {"type": "line", "strokeWidth": 1.5},
 "encoding": {
  "x": {"field": "d", "type": "temporal", "scale": {"type": "utc", "nice": false, "domain": [{"year":2020,"month":1,"date":1,"utc":true},{"year":2021,"month":1,"date":31,"utc":true}], "range": [82.66, 274.92]},
        "axis": {"orient": "bottom", "offset": -23, "zindex": 2, "values": [{"year":2020,"month":1,"date":12,"utc":true},{"year":2020,"month":4,"date":7,"utc":true},{"year":2020,"month":7,"date":2,"utc":true},{"year":2020,"month":9,"date":26,"utc":true},{"year":2020,"month":12,"date":21,"utc":true}],
                 "format": "%b-%y", "domain": false, "ticks": false, "tickSize": 0, "labelPadding": 1, "labelColor": "#8c8c8c", "labelFontSize": 8, "title": null}},
  "y": {"field": "v", "type": "quantitative", "scale": {"domain": [-400000, 1400000], "range": [282.6, 174.6], "nice": false, "zero": false},
        "axis": {"orient": "left", "offset": -82, "zindex": 2, "values": [-400000,-200000,0,200000,400000,600000,800000,1000000,1200000,1400000], "labelExpr": "(datum.value < 0 ? '-' : '') + '$' + format(abs(datum.value), ',')", "domain": false, "ticks": false, "tickSize": 0, "labelPadding": 2, "labelColor": "#777777", "labelFontSize": 8,
                 "title": "$millions", "titleAngle": 0, "titleX": -20, "titleY": 166, "titleAlign": "center", "titleBaseline": "middle", "titleFontSize": 8, "titleFontWeight": "normal", "titleColor": "#777777"}},
  "color": {"field": "s", "type": "nominal", "scale": {"domain": ["bond", "equity", "mmf"], "range": ["#e27fdd", "#4f5b74", "#80d4e4"]},
            "legend": {"orient": "none", "legendX": 122.5, "legendY": 154, "title": null, "symbolType": "M-1.5,0H1.5", "symbolSize": 100, "symbolStrokeWidth": 1.5, "labelFontSize": 8, "labelColor": "#6a6a6a", "labelOffset": 4.5, "rowPadding": 0,
                       "labelExpr": "datum.label == 'bond' ? 'YTD flows into bond funds & ETFs' : datum.label == 'equity' ? 'YTD flows into equity funds & ETFs' : 'YTD flows into money market funds'"}}
 }},
{"data": {"name": "ytdLast"}, "mark": {"type": "text", "dx": 8, "align": "left", "fontSize": 8, "color": "#707070"},
 "encoding": {
  "x": {"field": "d", "type": "temporal", "scale": {"type": "utc", "nice": false, "domain": [{"year":2020,"month":1,"date":1,"utc":true},{"year":2021,"month":1,"date":31,"utc":true}], "range": [82.66, 274.92]}, "axis": null},
  "y": {"field": "v", "type": "quantitative", "scale": {"domain": [-400000, 1400000], "range": [282.6, 174.6], "nice": false, "zero": false}, "axis": null},
  "text": {"field": "t"}
 }}
],
"resolve": {"scale": {"x": "independent", "y": "independent", "color": "independent", "fill": "independent"}}
}
